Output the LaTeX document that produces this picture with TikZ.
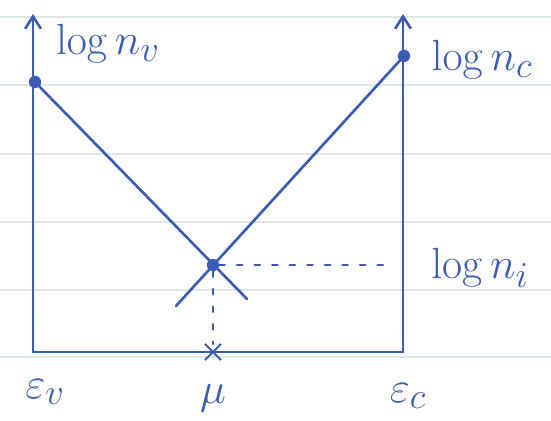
\documentclass[tikz,border=0pt]{standalone}
\usetikzlibrary{arrows.meta,shapes.misc}
\definecolor{ink}{RGB}{58,92,178}
\definecolor{paper}{RGB}{222,232,226}
\begin{document}
\begin{tikzpicture}[x=0.02cm,y=-0.02cm,
  pen/.style={draw=ink,line width=1.5pt,line cap=round,line join=round},
  axis/.style={pen,-{Straight Barb[length=7pt,width=9pt]}},
  dotmark/.style={circle,fill=ink,inner sep=0pt,minimum size=7pt},
  guide/.style={pen,dash pattern=on 3pt off 7pt},
  crossmark/.style={cross out,draw=ink,line width=1.2pt,inner sep=0pt,minimum size=8pt},
  lbl/.style={text=ink,font=\fontsize{30}{34}\selectfont}]
\useasboundingbox (0,0) rectangle (551,421);
\fill[white] (0,0) rectangle (551,421);
\foreach \y in {17,85,154,222,290,357}
  \draw[paper,line width=0.6pt] (0,\y) -- (551,\y);
% axes
\coordinate (vbot) at (33,352);
\coordinate (cbot) at (403,352);
\coordinate (vtop) at (33,14);
\coordinate (ctop) at (403,14);
\coordinate (mu) at (213,352);
\draw[axis] (vbot) -- (vtop);
\draw[axis] (cbot) -- (ctop);
\draw[pen] (vbot) -- (cbot);
% points
\node[dotmark] (nv) at (35,82) {};
\node[dotmark] (nc) at (404,56) {};
\node[dotmark] (ni) at (213,265) {};
\coordinate (le) at (247,299);
\coordinate (re) at (176,306);
\draw[pen] (nv.center) -- (le);
\draw[pen] (nc.center) -- (re);
\coordinate (nie) at (395,265);
\draw[guide] (ni) -- (nie);
\node[crossmark] (mux) at (mu) {};
\draw[guide] (ni) -- (mux);
% labels
\node[lbl] (lnv) at (108,44) {$\log n_v$};
\node[lbl] (lnc) at (482,60) {$\log n_c$};
\node[lbl] (lni) at (480,268) {$\log n_i$};
\node[lbl] (ev) at (45,392) {$\varepsilon_v$};
\node[lbl] (lmu) at (213,398) {$\mu$};
\node[lbl] (ec) at (408,396) {$\varepsilon_c$};
\end{tikzpicture}
\end{document}
